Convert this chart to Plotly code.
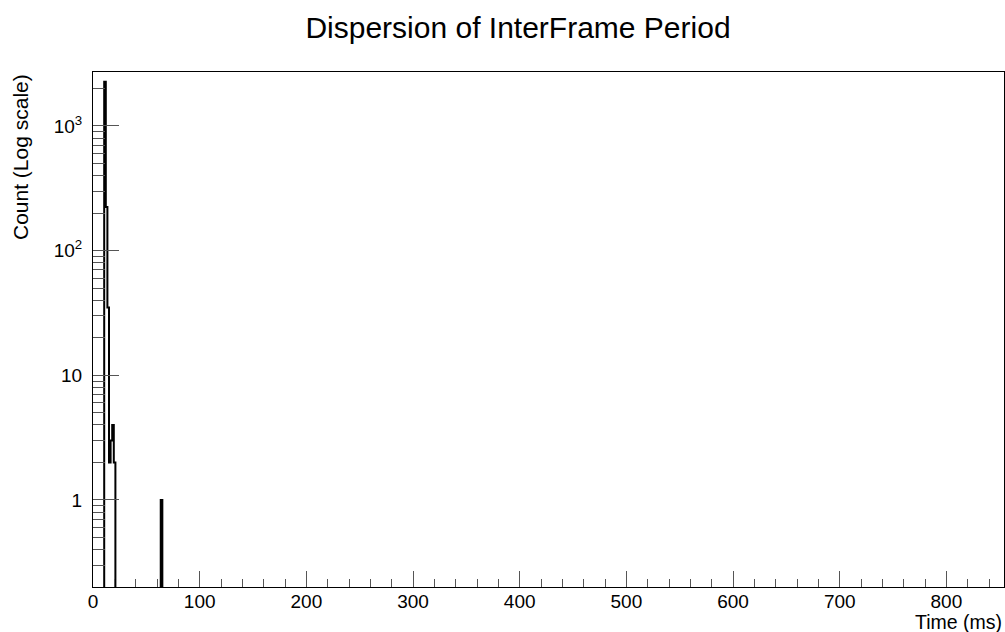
import numpy as np
import plotly.graph_objects as go

# Histogram data (bin left edges in ms, width, counts)
bin_left = [10.5, 12.0, 13.5, 15.0, 16.5, 18.0, 19.5, 63.5]
bin_width = [1.5, 1.5, 1.5, 1.5, 1.5, 1.5, 1.5, 1.5]
counts = [2260, 224, 35, 2, 3, 4, 2, 1]

x_range = [0, 854]
y_tickvals = [1, 10, 100, 1000]
y_ticktext = ["1", "10", "10<sup>2</sup>", "10<sup>3</sup>"]

BASE = 1e-3  # below visible range (zero counts)

# build step outline
xs, ys = [], []
prev_right = None
for l, w, c in zip(bin_left, bin_width, counts):
    if prev_right is None or abs(l - prev_right) > 1e-9:
        if prev_right is not None:
            xs.append(prev_right); ys.append(BASE)
        xs.append(l); ys.append(BASE)
    xs.append(l); ys.append(c)
    xs.append(l + w); ys.append(c)
    prev_right = l + w
xs.append(prev_right); ys.append(BASE)
xs.append(x_range[1]); ys.append(BASE)

fig = go.Figure()
fig.add_trace(go.Scatter(x=xs, y=ys, mode="lines",
                         line=dict(color="black", width=2),
                         hoverinfo="skip", showlegend=False))

font = "Liberation Sans, Arial, Helvetica, sans-serif"
fig.update_layout(
    width=1005, height=632,
    margin=dict(l=93, r=1, t=72, b=45),
    paper_bgcolor="white", plot_bgcolor="white",
    font=dict(family=font, size=19, color="black"),
    title=dict(text="Dispersion of InterFrame Period", x=518 / 1005, xanchor="center",
               y=1 - 27 / 632, yanchor="middle", font=dict(size=30)),
    showlegend=False,
)
fig.update_xaxes(
    range=x_range, showgrid=False, zeroline=False,
    showline=True, linecolor="black", linewidth=1, mirror=True,
    ticks="inside", ticklen=16, tickcolor="#555", tickwidth=1,
    dtick=100, tick0=0, ticklabelstandoff=-3,
    minor=dict(ticks="inside", ticklen=8, dtick=20, tickcolor="#555", showgrid=False),
)
fig.update_yaxes(
    type="log", range=[-0.698, 3.433], showgrid=False, zeroline=False,
    showline=True, linecolor="black", linewidth=1, mirror=True,
    ticks="inside", ticklen=26, tickcolor="#555", tickwidth=1,
    tickvals=y_tickvals, ticktext=y_ticktext, ticklabelstandoff=6,
    minor=dict(ticks="inside", ticklen=12, dtick="D1", tickcolor="#555", showgrid=False),
)
fig.add_annotation(text="Time (ms)", xref="paper", yref="paper", x=1, y=0,
                   xanchor="right", yanchor="top", yshift=-22, showarrow=False,
                   font=dict(size=19.5))
fig.add_annotation(text="Count (Log scale)", xref="paper", yref="paper", x=0, y=1,
                   xanchor="center", yanchor="top", xshift=-73, textangle=-90,
                   showarrow=False, font=dict(size=21))

fig.write_html("out.html", config={"displayModeBar": False},
               post_script="document.body.style.margin='0px';")
